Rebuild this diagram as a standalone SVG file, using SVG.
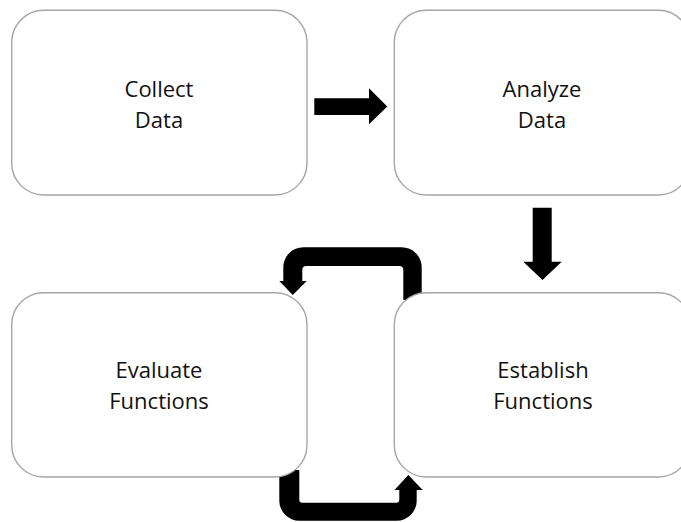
<svg xmlns="http://www.w3.org/2000/svg" width="681" height="522" viewBox="0 0 681 522">
  <style>
    .box { fill: #ffffff; stroke: #a6a6a6; stroke-width: 1.4; }
    .label { font-family: "Open Sans", "Liberation Sans", sans-serif; font-size: 22px; fill: #111111; text-anchor: middle; }
    .arrow { fill: #000000; stroke: none; }
  </style>
  <rect width="681" height="522" fill="#ffffff"/>

  <!-- connectors (drawn first so the boxes sit on top of the loop ends) -->
  <g id="connectors">
    <!-- Collect Data -> Analyze Data -->
    <path class="arrow" d="M314.3,98.3 H369 V88.3 L387.3,106.5 L369,124.3 V115 H314.3 Z"/>
    <!-- Analyze Data -> Establish Functions -->
    <path class="arrow" d="M532.7,207.7 H551.7 V261.7 H561.7 L542.5,280 L523.3,261.7 H532.7 Z"/>
    <!-- Establish Functions -> Evaluate Functions (upper loop) -->
    <path class="arrow" d="M403.3,300 V270 Q403.3,266 399.3,266 H306.3 Q302.3,266 302.3,270 V281 H306.7 L292.8,295 L279.3,281 H283.3 V267.3 A20,20 0 0 1 303.3,247.3 H401.7 A20,20 0 0 1 421.7,267.3 V300 Z"/>
    <!-- Evaluate Functions -> Establish Functions (lower loop) -->
    <path class="arrow" d="M279.3,470 V500.7 A20,20 0 0 0 299.3,520.7 H396.7 A20,20 0 0 0 416.7,500.7 V490 H422.7 L408.3,475 L394.5,490 H399.3 V499.7 Q399.3,502.7 396.3,502.7 H302.3 Q299.3,502.7 299.3,499.7 V470 Z"/>
  </g>

  <g id="collect-data">
    <rect class="box" x="11.7" y="10.3" width="295.3" height="184.7" rx="32" ry="32"/>
    <text class="label" x="159" y="97">Collect</text>
    <text class="label" x="159" y="128">Data</text>
  </g>

  <g id="analyze-data">
    <rect class="box" x="394.3" y="10.3" width="296" height="184.7" rx="32" ry="32"/>
    <text class="label" x="542" y="97">Analyze</text>
    <text class="label" x="542" y="128">Data</text>
  </g>

  <g id="evaluate-functions">
    <rect class="box" x="11.7" y="292.7" width="295.3" height="184.3" rx="32" ry="32"/>
    <text class="label" x="159" y="378">Evaluate</text>
    <text class="label" x="159" y="409">Functions</text>
  </g>

  <g id="establish-functions">
    <rect class="box" x="394.3" y="292.7" width="296" height="184.3" rx="32" ry="32"/>
    <text class="label" x="543" y="378">Establish</text>
    <text class="label" x="543" y="409">Functions</text>
  </g>
</svg>
